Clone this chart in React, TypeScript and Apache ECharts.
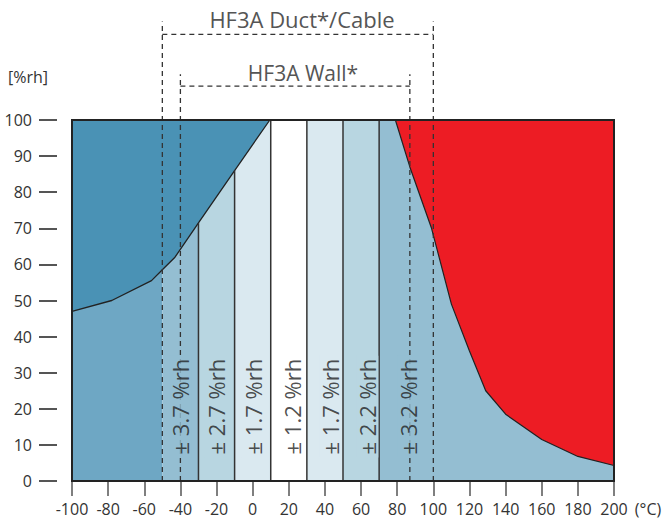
import React, { useEffect, useRef } from "react";
import * as echarts from "echarts";

// Boundary curve between the dark region (top-left) and the accuracy bands
const leftCurve: [number, number][] = [
  [-100, 47], [-78, 50], [-56, 55.5], [-50, 58.5], [-43, 62], [-30, 71.5], [-10, 86], [9.5, 100],
];
// Boundary curve of the red region (top-right)
const rightCurve: [number, number][] = [
  [79, 100], [87, 87], [99, 70], [110, 49], [120, 36], [129, 25], [140, 18.5], [160, 11.5], [180, 6.8], [200, 4.3],
];
// Accuracy band edges (°C)
const bandEdges = [-100, -50, -30, -10, 10, 30, 50, 70, 200];
// Band divider lines: x and top value
const dividerX = [-30, -10, 10, 30, 50, 70];
const dividerTop = [71.5, 86, 100, 100, 100, 100];
// Accuracy labels
const accuracyLabels = ["± 3.7 %rh", "± 2.7 %rh", "± 1.7 %rh", "± 1.2 %rh", "± 1.7 %rh", "± 2.2 %rh", "± 3.2 %rh"];
const accuracyX = [-40, -20.5, 0, 21.5, 43, 63.5, 86];
const accuracyY = 20.6;
// Product ranges
const ductRange = [-50, 100];
const ductBarY = 123.7;
const ductTop = 127.3;
const wallRange = [-40, 87];
const wallBarY = 109.4;
const wallTop = 112.7;

const bandColors = ["#6ea7c4", "#94bed2", "#b8d6e1", "#dae9f0", "#ffffff", "#dae9f0", "#b8d6e1", "#94bed2"];
const labelBg = ["#94bed2", "#b8d6e1", "#dae9f0", "#ffffff", "#dae9f0", "#b8d6e1", "#94bed2"];
const FONT = "Open Sans";

export default function App() {
  const ref = useRef<HTMLDivElement>(null);
  useEffect(() => {
    if (!ref.current) return;
    const chart = echarts.init(ref.current, null, { renderer: "svg" });
    const series: any[] = [];
    for (let i = 0; i < bandEdges.length - 1; i++) {
      series.push({
        type: "line",
        data: [[bandEdges[i], 100], [bandEdges[i + 1], 100]],
        symbol: "none",
        lineStyle: { opacity: 0, width: 0 },
        areaStyle: { color: bandColors[i], opacity: 1, origin: "start" },
        z: 1,
        silent: true,
      });
    }
    series.push({
      type: "line",
      data: leftCurve,
      symbol: "none",
      lineStyle: { color: "#222", width: 1.3 },
      areaStyle: { color: "#4a92b5", opacity: 1, origin: "end" },
      z: 2,
    });
    series.push({
      type: "line",
      data: rightCurve,
      symbol: "none",
      lineStyle: { color: "#222", width: 1.2 },
      areaStyle: { color: "#ed1c24", opacity: 1, origin: "end" },
      z: 2,
    });
    dividerX.forEach((x, i) => {
      series.push({
        type: "line",
        data: [[x, 0], [x, dividerTop[i]]],
        symbol: "none",
        lineStyle: { color: "#333", width: 1.5 },
        z: 3,
      });
    });
    const dashed = (data: number[][]) => ({
      type: "line",
      data,
      symbol: "none",
      clip: false,
      lineStyle: { color: "#333", width: 1.3, type: [5, 4] },
      z: 4,
    });
    series.push(dashed([[ductRange[0], 0], [ductRange[0], ductTop]]));
    series.push(dashed([[ductRange[1], 0], [ductRange[1], ductTop]]));
    series.push(dashed([[ductRange[0], ductBarY], [ductRange[1], ductBarY]]));
    series.push(dashed([[wallRange[0], 0], [wallRange[0], wallTop]]));
    series.push(dashed([[wallRange[1], 0], [wallRange[1], wallTop]]));
    series.push(dashed([[wallRange[0], wallBarY], [wallRange[1], wallBarY]]));
    series.push({
      type: "scatter",
      symbolSize: 0,
      z: 5,
      data: accuracyLabels.map((t, i) => ({
        value: [accuracyX[i], accuracyY],
        name: t,
        label: { backgroundColor: labelBg[i] },
      })),
      label: {
        show: true,
        position: "inside",
        rotate: 90,
        formatter: (p: any) => p.name,
        fontFamily: FONT,
        fontSize: 22,
        color: "#222",
        padding: [0, 3],
      },
    });

    chart.setOption({
      animation: false,
      grid: {
        left: 72, right: 50, top: 120, bottom: 38,
        show: true, z: 10, backgroundColor: "rgba(0,0,0,0)", borderColor: "#222", borderWidth: 2,
      },
      xAxis: {
        type: "value", min: -100, max: 200, interval: 20,
        axisLine: { show: true, onZero: false, lineStyle: { color: "#222", width: 2 } },
        axisTick: { show: true, length: 15, lineStyle: { color: "#555", width: 1.5 } },
        axisLabel: { fontFamily: FONT, fontSize: 16, color: "#333", margin: 20 },
        splitLine: { show: false },
      },
      yAxis: {
        type: "value", min: 0, max: 100, interval: 10, offset: 15,
        axisLine: { show: true, onZero: false, lineStyle: { color: "rgba(0,0,0,0)", width: 0 } },
        axisTick: { show: true, length: 18, lineStyle: { color: "#555", width: 2 } },
        axisLabel: { fontFamily: FONT, fontSize: 16, color: "#333", margin: 25 },
        splitLine: { show: false },
      },
      graphic: [
        { type: "text", x: 302, y: 19, style: { text: "HF3A Duct*/Cable", fontFamily: FONT, fontSize: 22, fill: "#555", textAlign: "center", textVerticalAlign: "middle" } },
        { type: "text", x: 303, y: 73, style: { text: "HF3A Wall*", fontFamily: FONT, fontSize: 21, fill: "#555", textAlign: "center", textVerticalAlign: "middle" } },
        { type: "text", x: 28, y: 77, style: { text: "[%rh]", fontFamily: FONT, fontSize: 16, fill: "#333", textAlign: "center", textVerticalAlign: "middle" } },
        { type: "text", x: 648, y: 509, style: { text: "(°C)", fontFamily: FONT, fontSize: 16, fill: "#333", textAlign: "center", textVerticalAlign: "middle" } },
      ],
      series,
    });
    return () => chart.dispose();
  }, []);
  return <div ref={ref} style={{ position: "absolute", left: 0, top: 0, width: 664, height: 519 }} />;
}
